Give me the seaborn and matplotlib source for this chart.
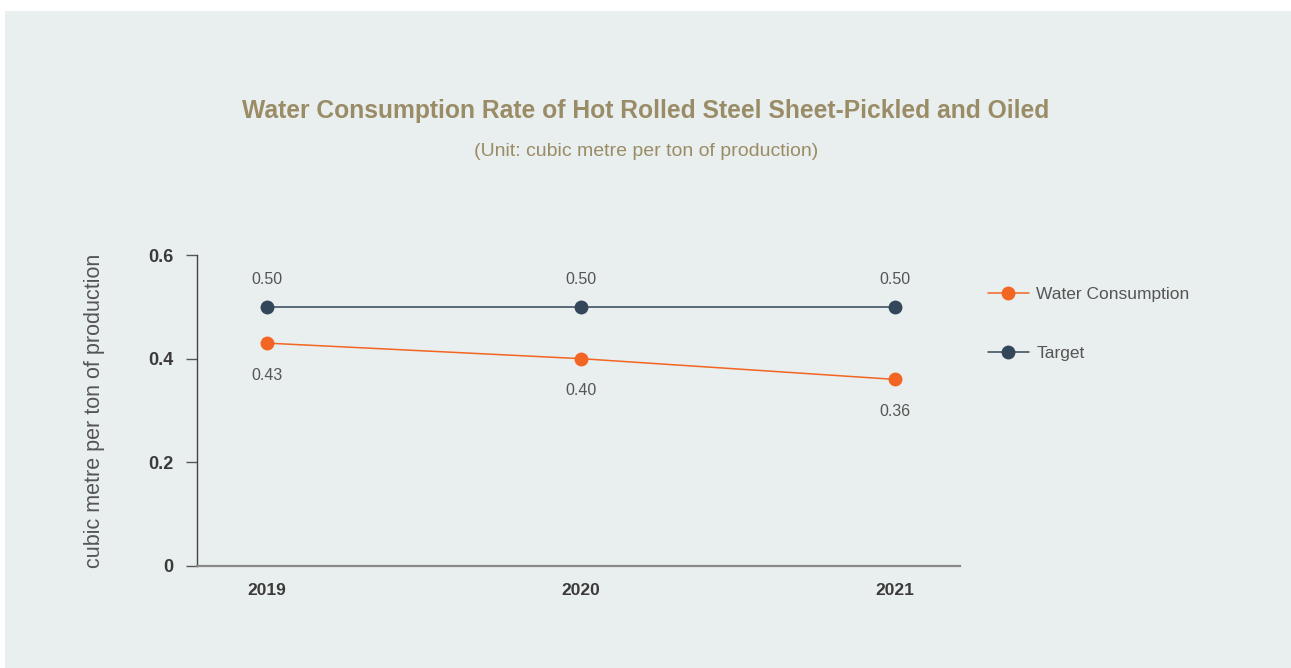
import matplotlib
matplotlib.use("Agg")
import matplotlib.pyplot as plt
import seaborn as sns
import pandas as pd
from matplotlib.patches import Rectangle
from matplotlib.lines import Line2D

years = ["2019", "2020", "2021"]
water = [0.43, 0.40, 0.36]
target = [0.50, 0.50, 0.50]
series_names = ["Water Consumption", "Target"]
yticks = [0, 0.2, 0.4, 0.6]
ytick_labels = ["0", "0.2", "0.4", "0.6"]

sns.set_theme(style="white")
plt.rcParams["font.family"] = ["Liberation Sans", "DejaVu Sans"]

bg = "#E9EFEE"
orange = "#F26522"
navy = "#34465A"

df = pd.DataFrame({
    "year": years * 2,
    "x": list(range(len(years))) * 2,
    "value": water + target,
    "series": [series_names[0]] * 3 + [series_names[1]] * 3,
})

fig = plt.figure(figsize=(12.91, 6.68), dpi=100, facecolor="white")
fig.patches.append(Rectangle((5 / 1291, 0), 1 - 5 / 1291, 1 - 11 / 668,
                             transform=fig.transFigure, facecolor=bg,
                             edgecolor="none", zorder=-10))

ax = fig.add_axes([197 / 1291, 1 - 566 / 668, (960 - 197) / 1291, (566 - 255) / 668])
ax.set_facecolor(bg)

sns.lineplot(data=df, x="x", y="value", hue="series",
             palette={series_names[0]: orange, series_names[1]: navy},
             marker="o", markersize=10, markeredgewidth=0, linewidth=1.1,
             ax=ax, legend=False)

ax.set_xlim(-0.223, 2.207)
ax.set_ylim(0, 0.6)
ax.set_xticks(range(len(years)))
ax.set_xticklabels(years, fontsize=12.5, fontweight="bold", color="#3A3A3A")
ax.set_yticks(yticks)
ax.set_yticklabels(ytick_labels, fontsize=13, fontweight="bold", color="#3A3A3A")
ax.tick_params(axis="x", bottom=False, length=0, pad=12)
ax.tick_params(axis="y", left=True, length=8, width=1, color="#555555", pad=9)
for s in ["top", "right"]:
    ax.spines[s].set_visible(False)
ax.spines["left"].set_color("#444444")
ax.spines["left"].set_linewidth(1)
ax.spines["bottom"].set_color("#888888")
ax.spines["bottom"].set_linewidth(1.6)
ax.set_xlabel("")
ax.set_ylabel("cubic metre per ton of production", fontsize=15.5, color="#555555",
              labelpad=31)

for i, v in enumerate(target):
    ax.annotate(f"{v:.2f}", (i, v), xytext=(0, 20), textcoords="offset points",
                ha="center", va="center", fontsize=11.5, color="#555555")
for i, v in enumerate(water):
    ax.annotate(f"{v:.2f}", (i, v), xytext=(0, -23), textcoords="offset points",
                ha="center", va="center", fontsize=11.5, color="#555555")

handles = [Line2D([], [], color=orange, marker="o", markersize=10, markeredgewidth=0, linewidth=1.1),
           Line2D([], [], color=navy, marker="o", markersize=10, markeredgewidth=0, linewidth=1.1)]
leg = fig.legend(handles, series_names, loc="upper left",
                 bbox_to_anchor=(972 / 1291, 1 - 271 / 668), frameon=False,
                 fontsize=12.5, labelspacing=2.55, handlelength=2.4, handletextpad=0.4)
for t in leg.get_texts():
    t.set_color("#555555")

fig.text(646 / 1291, 1 - 111 / 668,
         "Water Consumption Rate of Hot Rolled Steel Sheet-Pickled and Oiled",
         ha="center", va="center", fontsize=17.7, fontweight="bold", color="#9A8C66")
fig.text(646 / 1291, 1 - 152 / 668, "(Unit: cubic metre per ton of production)",
         ha="center", va="center", fontsize=14, color="#9A8C66")

fig.savefig("out.png", dpi=100, facecolor="white")
